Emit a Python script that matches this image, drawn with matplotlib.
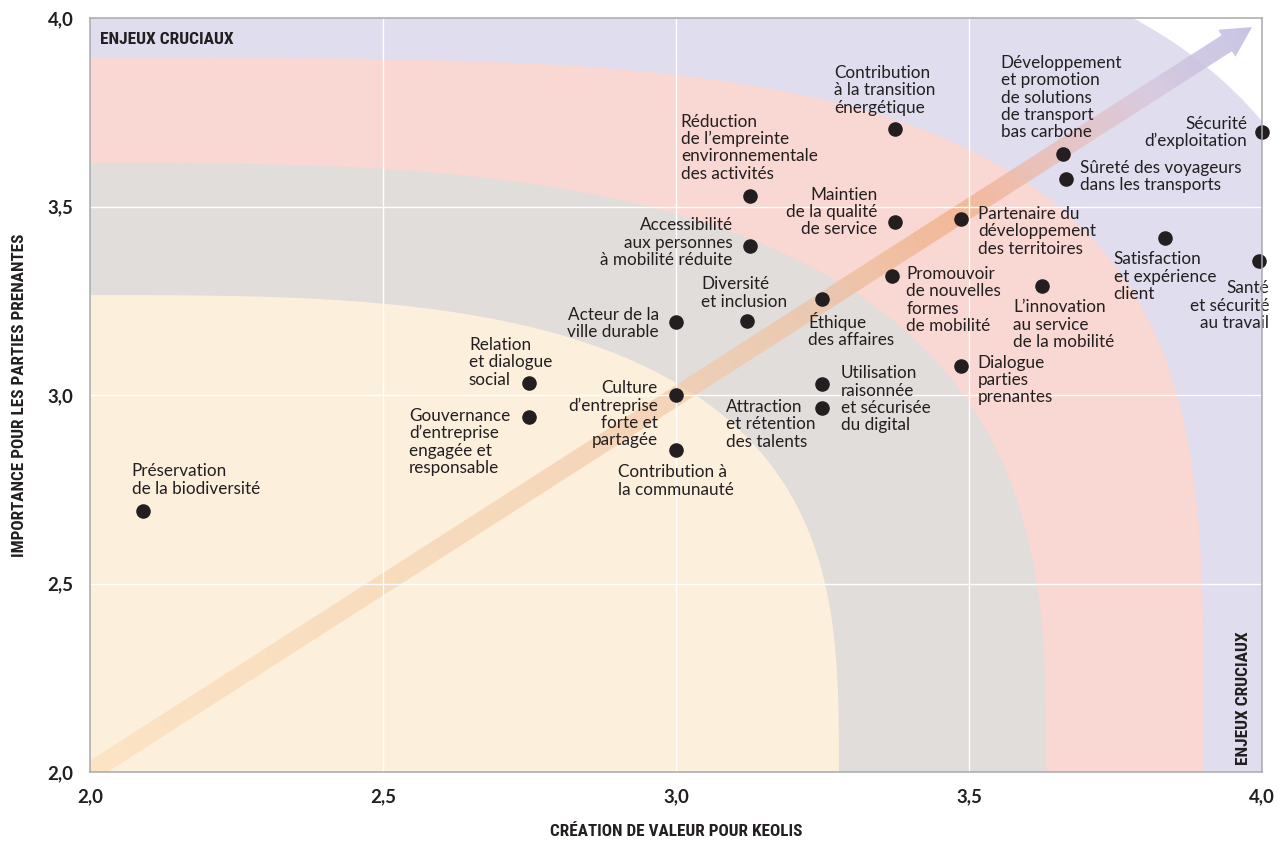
import numpy as np
import matplotlib
matplotlib.use("Agg")
import matplotlib.pyplot as plt
from matplotlib.patches import Polygon
from matplotlib.colors import LinearSegmentedColormap
from matplotlib import font_manager

# ---------------- data ----------------
enjeux = [
    "Préservation\nde la biodiversité",
    "Relation\net dialogue\nsocial",
    "Gouvernance\nd’entreprise\nengagée et\nresponsable",
    "Culture\nd’entreprise\nforte et\npartagée",
    "Contribution à\nla communauté",
    "Acteur de la\nville durable",
    "Diversité\net inclusion",
    "Accessibilité\naux personnes\nà mobilité réduite",
    "Réduction\nde l’empreinte\nenvironnementale\ndes activités",
    "Contribution\nà la transition\nénergétique",
    "Maintien\nde la qualité\nde service",
    "Promouvoir\nde nouvelles\nformes\nde mobilité",
    "Éthique\ndes affaires",
    "Utilisation\nraisonnée\net sécurisée\ndu digital",
    "Attraction\net rétention\ndes talents",
    "Partenaire du\ndéveloppement\ndes territoires",
    "Dialogue\nparties\nprenantes",
    "L’innovation\nau service\nde la mobilité",
    "Développement\net promotion\nde solutions\nde transport\nbas carbone",
    "Sûreté des voyageurs\ndans les transports",
    "Sécurité\nd’exploitation",
    "Satisfaction\net expérience\nclient",
    "Santé\net sécurité\nau travail",
]
creation_valeur = [2.09, 2.749, 2.749, 3.0, 3.0, 3.0, 3.121, 3.126, 3.126, 3.374,
                   3.374, 3.369, 3.249, 3.249, 3.249, 3.486, 3.486, 3.625, 3.660,
                   3.666, 4.0, 3.834, 3.995]
importance = [2.692, 3.032, 2.942, 3.0, 2.854, 3.194, 3.196, 3.395, 3.529, 3.706,
              3.460, 3.316, 3.255, 3.029, 2.966, 3.467, 3.078, 3.289, 3.640,
              3.574, 3.698, 3.416, 3.355]

tick_values = [2.0, 2.5, 3.0, 3.5, 4.0]
tick_labels = ["2,0", "2,5", "3,0", "3,5", "4,0"]
x_title = "CRÉATION DE VALEUR POUR KEOLIS"
y_title = "IMPORTANCE POUR LES PARTIES PRENANTES"
zone_title = "ENJEUX CRUCIAUX"

# ---------------- style / layout ----------------
TEXT = "#231F20"
# label placement: (dx px, dy px to cap top of first line, alignment) from the dot
label_layout = [
    (-11, 47, "left"), (-60, 45, "left"), (-120, 8, "left"), (-18, 14, "right"),
    (-58, -15, "left"), (-17, 14, "right"), (-46, 44, "left"), (-17, 28, "right"),
    (-69, 81, "left"), (-61, 63, "left"), (-18, 34, "right"), (14, 9, "left"),
    (-14, -17, "left"), (19, 18, "left"), (-96, 8, "left"), (17, 12, "left"),
    (17, 10, "left"), (-29, -14, "left"), (-62, 98, "left"), (14, 18, "left"),
    (-15, 15, "right"), (-51, -14, "left"), (10, -20, "right"),
]
LABEL_SIZE = 12.3          # pt
PITCH = 17.3               # px between lines
CAP = 0.7165 * LABEL_SIZE * 100 / 72

# zones: superellipse anchored at (2,2): semi-axes a, b, exponent n, colour
zones = [
    (2.20, 2.30, 4.0, "#DFDDEE"),
    (1.901, 1.894, 3.8, "#F9D7D2"),
    (1.632, 1.615, 3.0, "#E1DDDB"),
    (1.278, 1.265, 3.1, "#FCEFDC"),
]
arrow_cmap = LinearSegmentedColormap.from_list("arrow", [
    (0.00, "#FCDDB6"), (0.50, "#F3CDAE"), (0.63, "#EEC4A8"), (0.75, "#F2B48E"),
    (0.83, "#EBBFB8"), (0.92, "#D6C8E0"), (1.00, "#BEBADE")])

available = {f.name for f in font_manager.fontManager.ttflist}
def pick(cands, default="DejaVu Sans"):
    for c in cands:
        if c in available:
            return c
    return default

LABEL_FONT = [pick(["Lato", "Open Sans", "Noto Sans"]), "DejaVu Sans"]
COND_FONT = pick(["Roboto Condensed", "Liberation Sans Narrow", "Open Sans Condensed"], "DejaVu Sans")
cond_kw = dict(family=[COND_FONT, "DejaVu Sans"], weight="bold")
if COND_FONT == "DejaVu Sans":
    cond_kw["stretch"] = "condensed"

W, H = 1279, 843
fig = plt.figure(figsize=(W / 100, H / 100), dpi=100)
ax = fig.add_axes([90 / W, 1 - 772 / H, (1262 - 90) / W, (772 - 18) / H])
ax.set_xlim(2.0, 4.0)
ax.set_ylim(2.0, 4.0)
ax.set_facecolor("white")

# zones
t = np.linspace(0, np.pi / 2, 400)
for i, (a, b, n, col) in enumerate(zones):
    xs = 2.0 + a * np.cos(t) ** (2 / n)
    ys = 2.0 + b * np.sin(t) ** (2 / n)
    pts = np.column_stack([np.r_[2.0, xs, 2.0], np.r_[2.0, ys, 2.0]])
    ax.add_patch(Polygon(pts, closed=True, facecolor=col, edgecolor="none",
                         zorder=0.1 + 0.05 * i))

# gradient arrow (along the diagonal of the chart)
fig.canvas.draw()
tr = ax.transData
p0 = tr.transform((2.0, 2.0))
p1 = tr.transform((3.983, 3.976))
L = np.hypot(*(p1 - p0))
u = (p1 - p0) / L
v = np.array([-u[1], u[0]])
w, hw, hl = 9.5, 16.0, 30.0
pb = p1 - u * hl
poly_px = np.array([p0 - u * 4 + v * w, pb + v * w, pb + v * hw, p1, pb - v * hw,
                    pb - v * w, p0 - u * 4 - v * w])
poly_data = tr.inverted().transform(poly_px)
arrow_patch = Polygon(poly_data, closed=True, facecolor="none", edgecolor="none",
                      transform=ax.transData)
ax.add_patch(arrow_patch)
gx = np.linspace(2.0, 4.0, 600)
gy = np.linspace(2.0, 4.0, 600)
GX, GY = np.meshgrid(gx, gy)
P = tr.transform(np.column_stack([GX.ravel(), GY.ravel()]))
tt = ((P - p0) @ u / L).reshape(GX.shape).clip(0, 1)
rgba = arrow_cmap(tt)
rgba[..., 3] = 0.62 + 0.23 * np.clip(tt / 0.7, 0, 1)
im = ax.imshow(rgba, extent=(2, 4, 2, 4), origin="lower", aspect="auto",
               zorder=0.4, interpolation="bilinear")
im.set_clip_path(arrow_patch)

# grid
for gv in tick_values[1:-1]:
    ax.axvline(gv, color="white", lw=1.0, zorder=0.5)
    ax.axhline(gv, color="white", lw=1.0, zorder=0.5)

# points
ax.scatter(creation_valeur, importance, s=110, color=TEXT, linewidths=0,
           zorder=5, clip_on=False)
for name, xv, yv, (dx, dy, ha) in zip(enjeux, creation_valeur, importance, label_layout):
    for k, line in enumerate(name.split("\n")):
        ax.annotate(line, xy=(xv, yv), xytext=(dx, dy - CAP - k * PITCH),
                    textcoords="offset pixels", ha=ha, va="baseline",
                    fontsize=LABEL_SIZE, family=LABEL_FONT, color=TEXT,
                    annotation_clip=False, zorder=6)

# axes decorations
for sp in ax.spines.values():
    sp.set_color("#A7A9AC")
    sp.set_linewidth(1.1)
    sp.set_zorder(7)
ax.set_xticks(tick_values, labels=tick_labels)
ax.set_yticks(tick_values, labels=tick_labels)
ax.tick_params(length=0, labelsize=13.4, colors=TEXT)
ax.tick_params(axis="x", pad=12.0)
ax.tick_params(axis="y", pad=12.0)
for lab in ax.get_xticklabels() + ax.get_yticklabels():
    lab.set_family(LABEL_FONT)
    lab.set_fontweight("bold")

ax.set_xlabel(x_title, fontsize=12.3, color=TEXT, labelpad=13, **cond_kw)
ax.set_ylabel(y_title, fontsize=12.3, color=TEXT, labelpad=15, **cond_kw)

ax.annotate(zone_title, xy=(0, 1), xycoords="axes fraction", xytext=(10, -21),
            textcoords="offset pixels", ha="left", va="center", fontsize=12.5,
            color=TEXT, zorder=8, **cond_kw)
ax.annotate(zone_title, xy=(1, 0), xycoords="axes fraction", xytext=(-18, 7),
            textcoords="offset pixels", ha="center", va="bottom", rotation=90,
            fontsize=12.5, color=TEXT, zorder=8, **cond_kw)

fig.savefig("out.png", dpi=100)
